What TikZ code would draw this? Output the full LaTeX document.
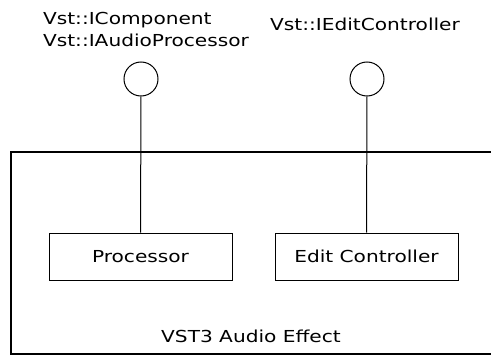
\documentclass[tikz,border=0pt]{standalone}
\usepackage{fontspec}
\setmainfont[FakeStretch=1.22]{DejaVu Sans}
\usetikzlibrary{positioning}

\begin{document}
\begin{tikzpicture}[x=1pt, y=-1pt, line width=1pt,
  part/.style={draw, minimum width=183pt, minimum height=47pt, font=\fontsize{16.5}{22}\selectfont},
  iface/.style={draw, circle, minimum size=34pt, inner sep=0pt},
  ilabel/.style={font=\fontsize{16.5}{22}\selectfont, align=left, inner sep=0pt}]
\useasboundingbox (0,0) rectangle (491,356);

% outer component, open to the right
\draw[line width=2pt] (495,152) -| (11,354) -- (495,354);
\node[font=\fontsize{16.5}{22}\selectfont] (effect) at (251,336) {VST3 Audio Effect};

% parts
\node[part] (proc) at (140.5,256.5) {Processor};
\node[part] (ctrl) at (366.5,256.5) {Edit Controller};

% interfaces
\node[iface] (procIf) at (141,79) {};
\node[iface] (ctrlIf) at (367,79) {};
\node[ilabel] (procLbl) at (146,29) {Vst::IComponent\\Vst::IAudioProcessor};
\node[ilabel] (ctrlLbl) at (365,24) {Vst::IEditController};

\draw (procIf.south) -- (proc.north);
\draw (ctrlIf.south) -- (ctrl.north);
\end{tikzpicture}
\end{document}
